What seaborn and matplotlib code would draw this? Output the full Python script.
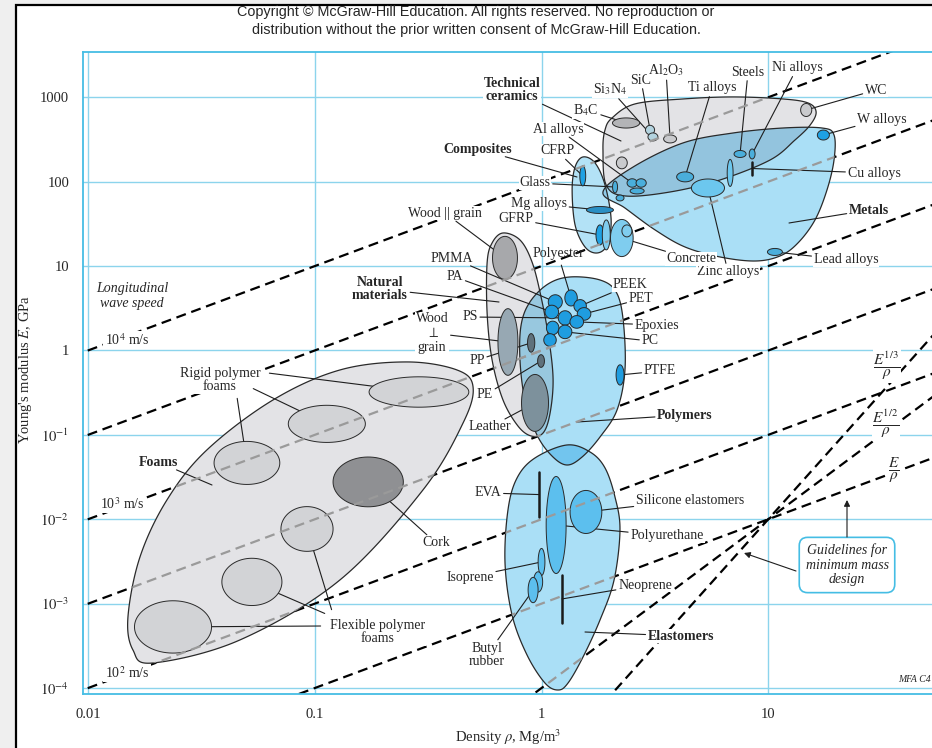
import numpy as np
import seaborn as sns
import matplotlib
matplotlib.use("Agg")
import matplotlib.pyplot as plt
from matplotlib.patches import Polygon, Rectangle
from matplotlib.ticker import FixedLocator, FixedFormatter, LogLocator, NullFormatter

# ---------------- data ----------------
# longitudinal wave speed lines, m/s  (E/rho = c^2 * 1e-6 in GPa per Mg/m3)
wave_speeds = [10000, 3162, 1000, 316, 100]
# minimum mass guidelines E^(1/n)/rho, all through one point
guide_powers = [1, 2, 3]
guide_rho0, guide_E0 = 10.0, 0.01

# envelope outlines, in log10(density) / log10(modulus)
foams_lr = [-1.802, -1.714, -1.330, -0.889, -0.523, -0.346, -0.302, -0.373, -0.593, -0.889, -1.184, -1.476, -1.652, -1.771, -1.824]
foams_le = [-3.549, -3.703, -3.430, -2.719, -1.653, -0.859, -0.432, -0.231, -0.136, -0.231, -0.586, -1.179, -1.771, -2.447, -3.158]
natural_lr = [-0.170, -0.095, -0.042, -0.002, 0.033, 0.051, 0.037, 0.007, -0.046, -0.104, -0.170, -0.218, -0.240, -0.240, -0.218]
natural_le = [1.392, 1.309, 1.049, 0.634, 0.124, -0.350, -0.752, -0.977, -1.013, -0.895, -0.586, -0.113, 0.444, 1.037, 1.274]
polymers_lr = [0.126, 0.258, 0.329, 0.360, 0.368, 0.333, 0.258, 0.179, 0.112, 0.046, -0.020, -0.073, -0.095, -0.090, -0.051, 0.029]
polymers_le = [0.871, 0.835, 0.693, 0.361, -0.231, -0.705, -1.025, -1.262, -1.357, -1.250, -1.001, -0.586, -0.113, 0.302, 0.575, 0.788]
elast_lr = [0.112, 0.214, 0.280, 0.324, 0.346, 0.320, 0.258, 0.183, 0.117, 0.073, 0.015, -0.064, -0.130, -0.161, -0.148, -0.108, -0.029]
elast_le = [-1.120, -1.203, -1.392, -1.736, -2.127, -2.719, -3.193, -3.632, -3.940, -4.023, -3.940, -3.608, -3.134, -2.518, -1.890, -1.511, -1.274]
ceramics_lr = [0.311, 0.412, 0.624, 0.845, 1.065, 1.176, 1.211, 1.185, 1.118, 1.008, 0.787, 0.567, 0.368, 0.285, 0.271, 0.280]
ceramics_le = [2.755, 2.921, 2.980, 3.004, 2.980, 2.932, 2.826, 2.672, 2.494, 2.257, 2.020, 1.878, 1.831, 1.961, 2.376, 2.613]
metals_lr = [0.271, 0.404, 0.624, 0.845, 1.065, 1.237, 1.290, 1.290, 1.259, 1.206, 1.131, 1.052, 0.942, 0.787, 0.633, 0.501, 0.368]
metals_le = [1.878, 2.174, 2.459, 2.577, 2.636, 2.636, 2.553, 2.257, 1.902, 1.546, 1.274, 1.120, 1.060, 1.108, 1.226, 1.428, 1.688]
comp_lr = [0.183, 0.236, 0.280, 0.307, 0.289, 0.245, 0.192, 0.148, 0.135, 0.148]
comp_le = [2.293, 2.222, 1.961, 1.546, 1.250, 1.155, 1.226, 1.487, 1.902, 2.174]

# material bubbles: centre density (Mg/m3), centre modulus (GPa), spans in decades
bub_names = ["rigid_1", "rigid_2", "rigid_3", "Cork", "flex_1", "flex_2", "flex_3",
             "Wood || grain", "Wood ⊥ grain", "Leather", "PP", "PE",
             "PMMA", "Polyester", "PEEK", "PET", "PA", "PS", "Epoxies", "poly_x", "PC", "poly_y", "PTFE",
             "Polyurethane", "Silicone elastomers", "Isoprene", "iso_x", "Butyl rubber",
             "B4C", "SiC", "Si3N4", "Al2O3", "cer_x", "WC",
             "Al alloys", "al_x", "al_y", "Ti alloys", "Zinc alloys", "met_x", "Steels", "Ni alloys", "W alloys", "Lead alloys",
             "CFRP", "Glass", "gl_x", "Mg alloys", "GFRP", "gfrp_x", "Concrete", "conc_x"]
bub_rho = [0.288, 0.113, 0.0502, 0.172, 0.0924, 0.0528, 0.0237,
           0.69, 0.711, 0.936, 0.90, 0.995,
           1.15, 1.35, 1.48, 1.54, 1.11, 1.27, 1.43, 1.12, 1.27, 1.09, 2.22,
           1.16, 1.57, 1.0, 0.966, 0.918,
           2.36, 3.01, 3.10, 3.69, 2.26, 14.7,
           2.51, 2.75, 2.64, 4.30, 5.42, 6.79, 7.51, 8.49, 17.5, 10.7,
           1.52, 2.11, 2.22, 1.81, 1.81, 1.93, 2.26, 2.38]
bub_E = [0.322, 0.135, 0.0465, 0.0277, 0.00767, 0.00181, 5.3e-4,
         12.5, 1.26, 0.239, 1.23, 0.75,
         3.76, 4.19, 3.37, 2.71, 2.86, 2.43, 2.18, 1.85, 1.66, 1.33, 0.513,
         0.00855, 0.0122, 0.00312, 0.00181, 0.00145,
         496, 410, 339, 321, 167, 707,
         96.5, 96.5, 77.6, 114, 84.2, 127, 213, 213, 357, 14.7,
         117, 86.5, 64.1, 46.2, 23.4, 23.4, 21.5, 26.1]
bub_rho_span = [0.44, 0.34, 0.29, 0.31, 0.23, 0.265, 0.34,
                0.11, 0.088, 0.119, 0.032, 0.03,
                0.062, 0.055, 0.055, 0.06, 0.06, 0.06, 0.06, 0.055, 0.06, 0.055, 0.035,
                0.088, 0.14, 0.03, 0.04, 0.044,
                0.12, 0.04, 0.044, 0.057, 0.048, 0.049,
                0.045, 0.045, 0.062, 0.075, 0.146, 0.026, 0.053, 0.026, 0.053, 0.066,
                0.026, 0.022, 0.035, 0.119, 0.035, 0.035, 0.10, 0.044]
bub_E_span = [0.36, 0.44, 0.51, 0.59, 0.53, 0.56, 0.62,
              0.51, 0.79, 0.675, 0.22, 0.15,
              0.17, 0.19, 0.15, 0.15, 0.16, 0.17, 0.15, 0.16, 0.16, 0.15, 0.24,
              1.15, 0.51, 0.32, 0.24, 0.30,
              0.12, 0.11, 0.095, 0.095, 0.14, 0.154,
              0.10, 0.10, 0.07, 0.118, 0.213, 0.32, 0.083, 0.118, 0.118, 0.083,
              0.237, 0.14, 0.07, 0.083, 0.237, 0.355, 0.44, 0.142]
bub_kind = ["foam"] * 3 + ["cork"] + ["foam"] * 3 + \
           ["wood", "wood2", "leather", "dark", "dark"] + \
           ["poly"] * 11 + ["elast"] * 5 + \
           ["cer_dark", "cer_blue", "cer_blue", "cer", "cer", "cer"] + \
           ["metal", "metal", "metal", "metal", "metal_lt", "metal_lt", "metal", "metal", "bright", "metal"] + \
           ["bright", "metal", "metal", "metal_dk", "bright", "comp_lt", "comp_lt", "comp_lt"]

# bars (single-valued along density)
bar_names = ["EVA", "Neoprene", "Cu alloys"]
bar_rho = [0.975, 1.23, 8.49]
bar_E_lo = [0.0106, 5.9e-4, 120]
bar_E_hi = [0.0363, 0.00219, 171]

# ---------------- style ----------------
sns.set_style("white")
plt.rcParams["font.family"] = ["Liberation Serif", "DejaVu Serif"]
plt.rcParams["mathtext.fontset"] = "stix"

W, H = 932, 748
fig = plt.figure(figsize=(W / 100, H / 100), dpi=100)
fig.patch.set_facecolor("white")
fig.add_artist(Rectangle((0, 0), 1, 1, transform=fig.transFigure, fc="#efefef", ec="none", zorder=-10))
fig.add_artist(Rectangle((16 / W, -0.05), 1.0, (H - 5) / H + 0.05, transform=fig.transFigure,
                         fc="white", ec="black", lw=1.6, zorder=-9))

ax = fig.add_axes([83 / W, (H - 694) / H, (995 - 83) / W, (694 - 52) / H])
ax.set_xscale("log")
ax.set_yscale("log")

cyan = "#45bde4"


def px(x, y):
    # layout helper: picture pixel -> axes fraction
    return ((x - 83) / 912, (694 - y) / 642)


def smooth_closed(lx, ly, n=24):
    P = np.column_stack([lx, ly])
    N = len(P)
    t = np.linspace(0, 1, n, endpoint=False)[:, None]
    segs = []
    for i in range(N):
        p0, p1, p2, p3 = P[i - 1], P[i], P[(i + 1) % N], P[(i + 2) % N]
        segs.append(0.5 * (2 * p1 + (p2 - p0) * t + (2 * p0 - 5 * p1 + 4 * p2 - p3) * t ** 2
                           + (3 * p1 - p0 - 3 * p2 + p3) * t ** 3))
    return 10 ** np.vstack(segs)


def ellipse(rho, E, wr, we, n=80):
    t = np.linspace(0, 2 * np.pi, n)
    return np.column_stack([10 ** (np.log10(rho) + wr / 2 * np.cos(t)),
                            10 ** (np.log10(E) + we / 2 * np.sin(t))])


# ---------------- guide lines ----------------
rho_line = np.array([0.003, 300.0])
line_defs = [(c ** 2 * 1e-6) * rho_line for c in wave_speeds]
line_defs += [guide_E0 * (rho_line / guide_rho0) ** n for n in guide_powers]
dash = (0, (4.5, 2.6))
for E_line in line_defs:
    sns.lineplot(x=rho_line, y=E_line, ax=ax, color="black", lw=1.6, ls=dash, zorder=1)

# ---------------- envelopes ----------------
envelopes = {
    "Foams": (foams_lr, foams_le, "#e3e3e6"),
    "Natural": (natural_lr, natural_le, "#e3e3e6"),
    "Ceramics": (ceramics_lr, ceramics_le, "#e3e3e6"),
    "Composites": (comp_lr, comp_le, "#b3e2f6"),
    "Metals": (metals_lr, metals_le, "#aadff6"),
    "Polymers": (polymers_lr, polymers_le, "#aadff6"),
    "Elastomers": (elast_lr, elast_le, "#aadff6"),
}
env_patch, env_pts = {}, {}
for name, (lr, le, col) in envelopes.items():
    pts = smooth_closed(lr, le)
    p = Polygon(pts, closed=True, fc=col, ec="none", zorder=2)
    ax.add_patch(p)
    env_patch[name], env_pts[name] = p, pts

overlaps = [("Metals", "Ceramics", "#93c4de"), ("Polymers", "Natural", "#98c8df"),
            ("Polymers", "Elastomers", "#72c5ee"), ("Composites", "Metals", "#90cbe8"),
            ("Composites", "Ceramics", "#a5d0e4")]
for a, b, col in overlaps:
    q = Polygon(env_pts[a], closed=True, fc=col, ec="none", zorder=2.05)
    ax.add_patch(q)
    q.set_clip_path(env_patch[b])

for name in envelopes:
    ax.add_patch(Polygon(env_pts[name], closed=True, fill=False, ec="#2a2a2a", lw=0.9, zorder=2.1))

# ---------------- bubbles ----------------
kind_colors = {"foam": "#d2d3d6", "cork": "#8f9093", "wood": "#a7a8ab", "wood2": "#97a8b3",
               "leather": "#7d919c", "dark": "#5f717c", "poly": "#1f9de0", "elast": "#5cbfee",
               "cer": "#c9cacd", "cer_dark": "#b3b4b7", "cer_blue": "#b3d3df", "metal": "#4aaedb",
               "metal_lt": "#6cc7ee", "metal_dk": "#2a8fc4", "bright": "#1ea1e3", "comp_lt": "#7fcdef"}
centers = {}
for i, name in enumerate(bub_names):
    pts = ellipse(bub_rho[i], bub_E[i], bub_rho_span[i], bub_E_span[i])
    ax.add_patch(Polygon(pts, closed=True, fc=kind_colors[bub_kind[i]], ec="#2a2a2a", lw=0.7, zorder=3))
    centers[name] = (bub_rho[i], bub_E[i])
for i, name in enumerate(bar_names):
    ax.plot([bar_rho[i], bar_rho[i]], [bar_E_lo[i], bar_E_hi[i]], color="#1a1a1a", lw=1.8, zorder=3)
    centers[name] = (bar_rho[i], np.sqrt(bar_E_lo[i] * bar_E_hi[i]))

# guide lines show grey where they cross an envelope
for name in envelopes:
    for E_line in line_defs:
        sns.lineplot(x=rho_line, y=E_line, ax=ax, color="#9a9a9a", lw=1.6, ls=dash, zorder=3.5)
        ax.lines[-1].set_clip_path(env_patch[name])

# ---------------- axes ----------------
ax.set_xlim(0.0095, 100)
ax.set_ylim(8.5e-5, 3440)
x_ticks = [0.01, 0.1, 1, 10, 100]
y_ticks = [1e-4, 1e-3, 1e-2, 1e-1, 1, 10, 100, 1000]
ax.xaxis.set_major_locator(FixedLocator(x_ticks))
ax.xaxis.set_major_formatter(FixedFormatter(["0.01", "0.1", "1", "10", ""]))
ax.yaxis.set_major_locator(FixedLocator(y_ticks))
ax.yaxis.set_major_formatter(FixedFormatter(["$10^{-4}$", "$10^{-3}$", "$10^{-2}$", "$10^{-1}$",
                                             "1", "10", "100", "1000"]))
for axis in (ax.xaxis, ax.yaxis):
    axis.set_minor_locator(LogLocator(base=10, subs=np.arange(2, 10)))
    axis.set_minor_formatter(NullFormatter())
ax.tick_params(which="both", direction="out", color=cyan, width=1.0, labelsize=10.5, pad=3)
ax.tick_params(which="major", length=7)
ax.tick_params(which="minor", length=4)
for sp in ax.spines.values():
    sp.set_color(cyan)
    sp.set_linewidth(1.3)
ax.grid(True, which="major", color="#8cd4ec", lw=1.0, zorder=0)
ax.set_axisbelow(True)
ax.set_xlabel(r"Density $\rho$, Mg/m$^3$", fontsize=10.5)
ax.set_ylabel(r"Young's modulus $E$, GPa", fontsize=10.5)
ax.xaxis.set_label_coords(*px(508, 727))
ax.yaxis.set_label_coords(*px(34, 370))

# ---------------- labels ----------------
white = dict(fc="white", ec="none", pad=0.6)
leader = dict(arrowstyle="-", color="#1e1e1e", lw=0.8, shrinkA=1, shrinkB=0)
labels = [
    ("Technical\nceramics", (512, 90), (621, 141), True),
    ("Si$_3$N$_4$", (610, 89), "Si3N4", False),
    ("SiC", (641, 80), "SiC", False),
    ("Al$_2$O$_3$", (666, 70), "Al2O3", False),
    ("B$_4$C", (586, 110), "B4C", False),
    ("Ti alloys", (712, 88), "Ti alloys", False),
    ("Steels", (748, 72), "Steels", False),
    ("Ni alloys", (797, 68), "Ni alloys", False),
    ("WC", (876, 90), "WC", False),
    ("W alloys", (882, 119), "W alloys", False),
    ("Cu alloys", (874, 173), "Cu alloys", False),
    ("Metals", (869, 210), (789, 223), True),
    ("Lead alloys", (846, 260), "Lead alloys", False),
    ("Zinc alloys", (728, 272), "Zinc alloys", False),
    ("Concrete", (691, 259), "Concrete", False),
    ("Al alloys", (558, 129), "Al alloys", False),
    ("Composites", (478, 149), (577, 177), True),
    ("CFRP", (557, 151), "CFRP", False),
    ("Glass", (535, 183), "Glass", False),
    ("Mg alloys", (539, 204), "Mg alloys", False),
    ("GFRP", (516, 219), "GFRP", False),
    ("Wood || grain", (445, 213), "Wood || grain", False),
    ("PMMA", (452, 258), "PMMA", False),
    ("Polyester", (558, 254), "Polyester", False),
    ("PA", (455, 277), "PA", False),
    ("Natural\nmaterials", (380, 289), (499, 302), True),
    ("PEEK", (630, 285), "PEEK", False),
    ("PET", (641, 299), "PET", False),
    ("Epoxies", (657, 325), "Epoxies", False),
    ("PC", (650, 341), "PC", False),
    ("PS", (470, 317), "PS", False),
    ("Wood\n$\\perp$\ngrain", (432, 333), "Wood ⊥ grain", False),
    ("PP", (477, 360), "PP", False),
    ("PE", (485, 395), "PE", False),
    ("Leather", (490, 427), "Leather", False),
    ("PTFE", (660, 371), "PTFE", False),
    ("Polymers", (685, 415), (577, 422), True),
    ("Foams", (158, 462), (212, 485), True),
    ("Cork", (436, 543), "Cork", False),
    ("EVA", (488, 493), "EVA", False),
    ("Silicone elastomers", (690, 500), "Silicone elastomers", False),
    ("Polyurethane", (667, 536), "Polyurethane", False),
    ("Isoprene", (470, 577), "Isoprene", False),
    ("Neoprene", (645, 585), "Neoprene", False),
    ("Elastomers", (681, 636), (585, 632), True),
    ("Butyl\nrubber", (487, 655), "Butyl rubber", False),
]
for text, pos, target, bold in labels:
    if isinstance(target, str):
        xy, xyc = centers[target], "data"
    else:
        xy, xyc = px(*target), "axes fraction"
    ax.annotate(text, xy=xy, xycoords=xyc, xytext=px(*pos), textcoords="axes fraction",
                ha="center", va="center", fontsize=10, linespacing=1.05,
                fontweight="bold" if bold else "normal",
                bbox=None if text == "Polyester" else white, arrowprops=leader, zorder=2.5)

# labels with several leaders
ax.text(*px(220, 380), "Rigid polymer\nfoams", transform=ax.transAxes, ha="center", va="center",
        fontsize=10, linespacing=1.05, bbox=white, zorder=2.5)
for start, name in [((268, 373), "rigid_1"), ((252, 388), "rigid_2"), ((237, 397), "rigid_3")]:
    ax.annotate("", xy=centers[name], xytext=px(*start), textcoords="axes fraction",
                arrowprops=leader, zorder=2.5)
ax.text(*px(378, 632), "Flexible polymer\nfoams", transform=ax.transAxes, ha="center", va="center",
        fontsize=10, linespacing=1.05, bbox=white, zorder=2.5)
for start, name in [((322, 626), "flex_3"), ((326, 614), "flex_2"), ((332, 611), "flex_1")]:
    ax.annotate("", xy=centers[name], xytext=px(*start), textcoords="axes fraction",
                arrowprops=leader, zorder=2.5)

ax.text(*px(132, 296), "Longitudinal\nwave speed", transform=ax.transAxes, ha="center", va="center",
        fontsize=10, style="italic", linespacing=1.2)
for text, pos in [("10$^4$ m/s", (127, 340)), ("10$^3$ m/s", (122, 504)), ("10$^2$ m/s", (127, 673))]:
    ax.text(*px(*pos), text, transform=ax.transAxes, ha="center", va="center", fontsize=10,
            bbox=dict(fc="white", ec="none", pad=1.0), zorder=2.5)
for text, pos in [(r"$\dfrac{E^{1/3}}{\rho}$", (887, 366)), (r"$\dfrac{E^{1/2}}{\rho}$", (886, 424)),
                  (r"$\dfrac{E}{\rho}$", (894, 471))]:
    ax.text(*px(*pos), text, transform=ax.transAxes, ha="center", va="center", fontsize=11,
            bbox=dict(fc="white", ec="none", pad=0.5), zorder=2.5)

ax.text(*px(847, 565), "Guidelines for\nminimum mass\ndesign", transform=ax.transAxes, ha="center",
        va="center", fontsize=10, style="italic", linespacing=1.15, zorder=4,
        bbox=dict(boxstyle="round,pad=0.45,rounding_size=0.6", fc="white", ec=cyan, lw=1.2))
arrow = dict(arrowstyle="-|>", color="#1e1e1e", lw=0.8, mutation_scale=9, shrinkA=0, shrinkB=0)
ax.annotate("", xy=px(847, 500), xytext=px(847, 537), xycoords="axes fraction",
            textcoords="axes fraction", arrowprops=arrow, zorder=4)
ax.annotate("", xy=px(744, 553), xytext=px(796, 571), xycoords="axes fraction",
            textcoords="axes fraction", arrowprops=arrow, zorder=4)
ax.text(*px(898, 680), "MFA C4", transform=ax.transAxes, ha="left", va="center", fontsize=7,
        style="italic")

# header
for yy, line in [(12, "Copyright © McGraw-Hill Education. All rights reserved. No reproduction or"),
                 (30, "distribution without the prior written consent of McGraw-Hill Education.")]:
    fig.text(476 / W, 1 - yy / H, line, ha="center", va="center", fontsize=10.4,
             family="Liberation Sans")

fig.savefig("out.png", dpi=100)
